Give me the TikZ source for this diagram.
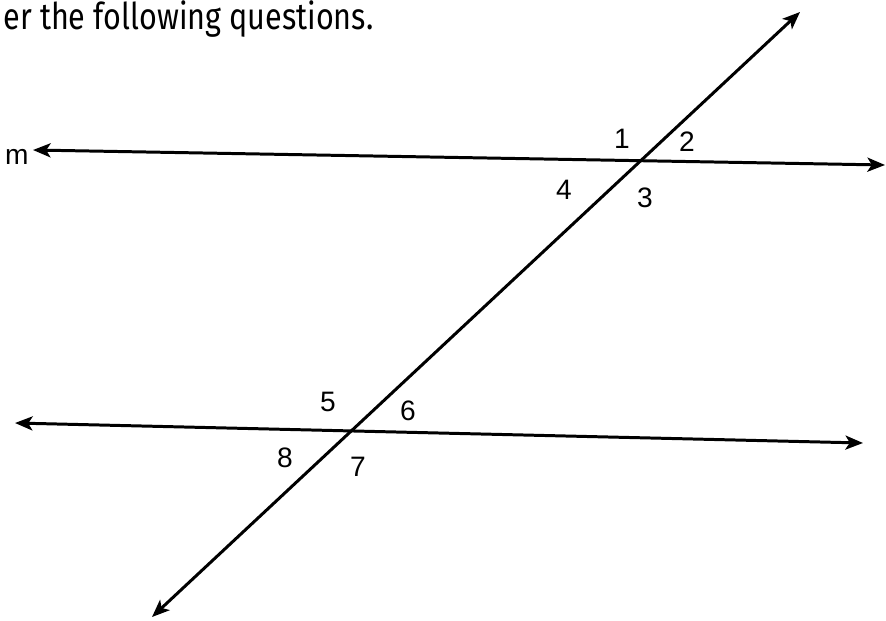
\documentclass[tikz,border=0pt]{standalone}
\usepackage{fontspec}
\setmainfont{Liberation Sans}
\newfontfamily\headfont{Fira Sans}
\usetikzlibrary{arrows.meta}

\begin{document}
\begin{tikzpicture}
            [x=0.02cm, y=-0.02cm, line width=1.7pt, <->,
             >={Stealth[length=10pt,width=8pt,inset=2.5pt]},
             lbl/.style={font=\fontsize{16}{18}\selectfont, inner sep=0pt}]
            \useasboundingbox (0, 0) rectangle (886, 620);
            \node [anchor=base west, inner sep=0pt] (head) at (2, 29)
                {\resizebox{7.4cm}{\height}{\headfont\fontsize{21}{24}\selectfont er the following questions.}};
            \coordinate (mL) at (33, 150);
            \coordinate (mR) at (885, 165);
            \coordinate (nL) at (15, 423);
            \coordinate (nR) at (863, 443);
            \coordinate (tT) at (800, 12);
            \coordinate (tB) at (152, 617);
            \draw (mL) -- (mR);
            \draw (nL) -- (nR);
            \draw (tB) -- (tT);
            \node [lbl, anchor=east] (m) at (30, 157) {m};
            \node [lbl] (a1) at (622, 139) {1};
            \node [lbl] (a2) at (687, 142) {2};
            \node [lbl] (a3) at (645, 198) {3};
            \node [lbl] (a4) at (564, 190) {4};
            \node [lbl] (a5) at (328, 402) {5};
            \node [lbl] (a6) at (408, 411) {6};
            \node [lbl] (a7) at (358, 467) {7};
            \node [lbl] (a8) at (285, 458) {8};
        \end{tikzpicture}
\end{document}
